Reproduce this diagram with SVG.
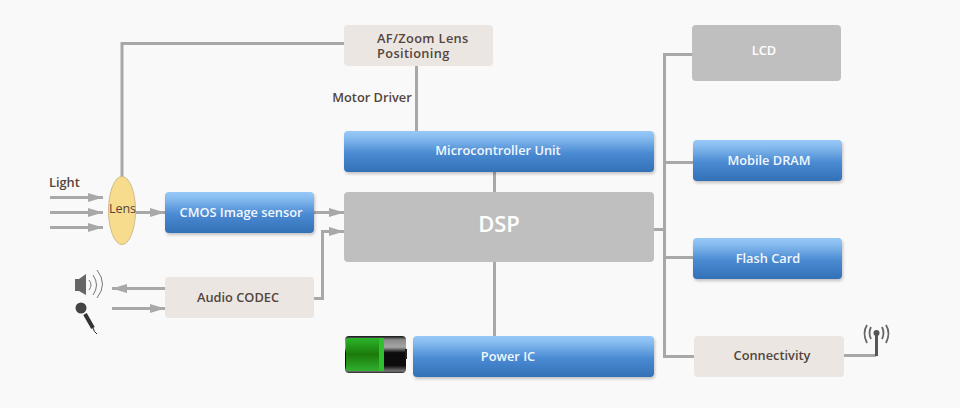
<svg xmlns="http://www.w3.org/2000/svg" width="960" height="408" viewBox="0 0 960 408">
<style>
text{font-family:"Open Sans","Noto Sans",sans-serif;font-weight:600;font-size:12.8px;text-anchor:middle}
.w{fill:#f2f7fd}.d{fill:#54453c}.l{text-anchor:start}
.blue{fill:url(#bl);filter:url(#sh)}
.beige{fill:#ebe6e2}.gray{fill:#bfbfbf}
.c{fill:none;stroke:#a8a8a8;stroke-width:3}
.a{marker-end:url(#ah)}
</style>
<defs>
<linearGradient id="bl" x1="0" y1="0" x2="0" y2="1"><stop offset="0" stop-color="#97c8f7"/><stop offset=".12" stop-color="#8cc0f2"/><stop offset=".55" stop-color="#4a8ad2"/><stop offset="1" stop-color="#3370b6"/></linearGradient>
<linearGradient id="bat" x1="0" y1="0" x2="0" y2="1"><stop offset="0" stop-color="#111"/><stop offset=".1" stop-color="#8a8a8a"/><stop offset=".3" stop-color="#a5a5a5"/><stop offset=".45" stop-color="#0c0c0c"/><stop offset=".8" stop-color="#0c0c0c"/><stop offset=".95" stop-color="#777"/><stop offset="1" stop-color="#222"/></linearGradient>
<linearGradient id="gr" x1="0" y1="0" x2="0" y2="1"><stop offset="0" stop-color="#2bb52b"/><stop offset=".5" stop-color="#1c7a0a"/><stop offset="1" stop-color="#30b030"/></linearGradient>
<filter id="sh" x="-5%" y="-10%" width="110%" height="130%"><feDropShadow dx="1" dy="2" stdDeviation="1.500" flood-color="#000" flood-opacity=".22"/></filter>
<marker id="ah" markerUnits="userSpaceOnUse" markerWidth="16" markerHeight="9" refX="15" refY="4.500" orient="auto"><path d="M0 0L15 4.500L0 9z" fill="#a8a8a8"/></marker>
</defs>
<rect width="960" height="408" fill="#f9f9f9"/>
<g id="connectors">
<path class="c" d="M122 177V43.500H344"/>
<path class="c" d="M416.500 66V131"/>
<path class="c" d="M494.500 172V192"/>
<path class="c" d="M494.500 262V336"/>
<path class="c" d="M692 54.500H664.500V356.500H694"/>
<path class="c" d="M664 162.500H693"/>
<path class="c" d="M664 257.500H693"/>
<path class="c" d="M654 229.500H664"/>
<path class="c" d="M844 355.500H876"/>
<path class="c a" d="M50 197.500H103"/>
<path class="c a" d="M50 212.500H103"/>
<path class="c a" d="M50 227.500H103"/>
<path class="c a" d="M136 212.500H165"/>
<path class="c a" d="M314 212.500H344"/>
<path class="c a" d="M314 298.500H322.500V231.500H344"/>
<path class="c a" d="M165 288.500H112"/>
<path class="c a" d="M112 308.500H165"/>
</g>
<g id="lens"><ellipse cx="122" cy="210.500" rx="13.500" ry="34" fill="#f8dc8e" stroke="#cdbb8a"/><text x="122.500" y="213" style="font-weight:400;font-size:12.500px" fill="#54453c">Lens</text></g>
<g id="light"><text class="d l" x="49" y="187">Light</text></g>
<g id="cmos"><rect class="blue" x="165" y="192" width="149" height="41" rx="4"/><text class="w" x="241" y="217">CMOS Image sensor</text></g>
<g id="af"><rect class="beige" x="344" y="25" width="149" height="41" rx="4"/><text class="d l" x="377" y="43" style="letter-spacing:.35px">AF/Zoom Lens</text><text class="d l" x="377" y="58" style="letter-spacing:.35px">Positioning</text></g>
<g id="motor"><text class="d" x="372" y="102">Motor Driver</text></g>
<g id="mcu"><rect class="blue" x="344" y="131" width="310" height="41" rx="4"/><text class="w" x="498" y="155">Microcontroller Unit</text></g>
<g id="dsp"><rect class="gray" x="344" y="192" width="310" height="70" rx="4"/><text x="499" y="232" style="font-size:22px" fill="#fff">DSP</text></g>
<g id="audio"><rect class="beige" x="165" y="277" width="149" height="41" rx="4"/><text class="d" x="238" y="302">Audio CODEC</text></g>
<g id="power"><rect class="blue" x="413" y="336" width="241" height="41" rx="4"/><text class="w" x="508" y="361">Power IC</text></g>
<g id="lcd"><rect class="gray" x="692" y="25" width="149" height="56" rx="4"/><text x="764" y="55" fill="#fff">LCD</text></g>
<g id="dram"><rect class="blue" x="693" y="140" width="149" height="41" rx="4"/><text class="w" x="769" y="165">Mobile DRAM</text></g>
<g id="flash"><rect class="blue" x="693" y="238" width="149" height="41" rx="4"/><text class="w" x="768" y="263">Flash Card</text></g>
<g id="conn"><rect class="beige" x="694" y="336" width="150" height="41" rx="4"/><text class="d" x="772" y="360">Connectivity</text></g>
<g id="speaker"><path d="M75 279H79L86 274V295L79 291H75z" fill="#666"/><g fill="none" stroke="#777" stroke-width="1"><path d="M89 280Q93 285 89 290"/><path d="M93 275Q100 285 93 295"/><path d="M97 270Q108 284 97 298"/></g></g>
<g id="mic"><circle cx="81" cy="308" r="5.500" fill="#444"/><path d="M85 314L93 328" stroke="#333" stroke-width="4" fill="none"/><path d="M93 328Q94 332 97 334" stroke="#222" fill="none"/></g>
<g id="battery"><rect x="345" y="336" width="61" height="37" rx="4" fill="url(#bat)"/><rect x="346" y="338" width="37" height="33" rx="2" fill="url(#gr)"/><rect x="379" y="338" width="5" height="33" fill="#2fc02f"/><rect x="405" y="349" width="2" height="10" fill="#222"/></g>
<g id="antenna"><path d="M876.500 334V356" stroke="#555" stroke-width="3" fill="none"/><circle cx="876.500" cy="333" r="3" fill="#555"/><g fill="none" stroke="#666" stroke-width="1.800"><path d="M871 327Q868 333 871 339"/><path d="M882 327Q885 333 882 339"/><path d="M867 325Q862 333 867 343"/><path d="M886 325Q891 333 886 343"/></g></g>
</svg>
